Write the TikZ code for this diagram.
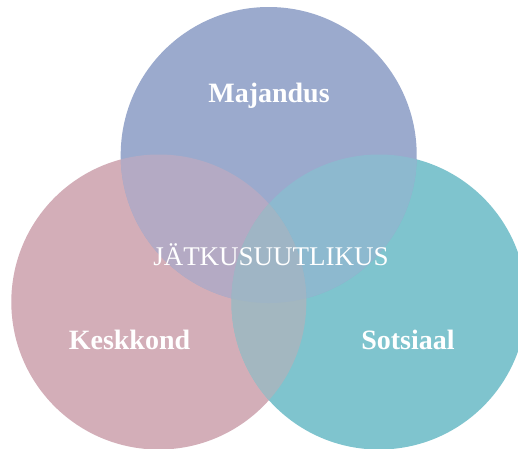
\documentclass[tikz,border=0pt]{standalone}
\usepackage{fontspec}
\setmainfont{Liberation Serif}
\definecolor{cTop}{HTML}{9BAACD}
\definecolor{cLeft}{HTML}{D3AEB8}
\definecolor{cRight}{HTML}{7FC4CE}
\definecolor{cTL}{HTML}{B4AAC4}
\definecolor{cTR}{HTML}{8DB9CF}
\definecolor{cLR}{HTML}{A3B7C0}
\definecolor{cC}{HTML}{9FB5C5}
\tikzset{lbl/.style={text=white, font=\bfseries\fontsize{28}{30}\selectfont, anchor=base, inner sep=0pt}}
\begin{document}
\begin{tikzpicture}[x=1pt,y=-1pt]
\useasboundingbox (0,0) rectangle (518,448);
\clip (0,0) rectangle (518,448);
\def\ctop{(268.7,155) circle (148)}
\def\cleft{(158.8,302) circle (147.5)}
\def\cright{(379,302) circle (147.5)}
\fill[cLeft] \cleft;
\fill[cRight] \cright;
\fill[cTop] \ctop;
\begin{scope}\clip \ctop; \fill[cTL] \cleft; \fill[cTR] \cright; \end{scope}
\begin{scope}\clip \cleft; \fill[cLR] \cright; \end{scope}
\begin{scope}\clip \ctop; \clip \cleft; \fill[cC] \cright; \end{scope}
\node[lbl] (maj) at (269,102) {Majandus};
\node[lbl] (kes) at (129.5,349) {Keskkond};
\node[lbl] (sot) at (408,349) {Sotsiaal};
\node[lbl, font=\fontsize{27}{29}\selectfont] (jat) at (271,265) {JÄTKUSUUTLIKUS};
\end{tikzpicture}
\end{document}
